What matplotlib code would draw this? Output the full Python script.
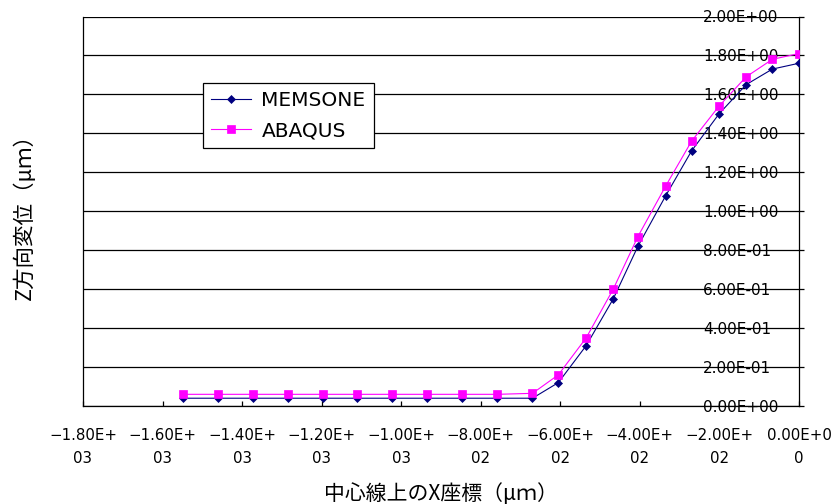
import numpy as np
import matplotlib
matplotlib.use("Agg")
import matplotlib.pyplot as plt

"""
Z displacement along the center line, MEMSONE vs ABAQUS
"""

plt.rcParams['font.family'] = ['DejaVu Sans', 'Noto Sans CJK JP']

# x coordinate on the center line (um)
xPos = [-1548, -1460, -1372, -1284, -1197, -1110, -1023, -936, -848, -758, -670,
        -605, -535, -467, -405, -335, -270, -201, -133, -67, 0]
# Z displacement (um)
memsone = [0.040, 0.040, 0.040, 0.040, 0.040, 0.040, 0.040, 0.040, 0.040, 0.040, 0.040,
           0.12, 0.31, 0.55, 0.82, 1.08, 1.31, 1.50, 1.65, 1.73, 1.76]
abaqus = [0.060, 0.060, 0.060, 0.060, 0.060, 0.060, 0.060, 0.060, 0.060, 0.060, 0.065,
          0.16, 0.35, 0.60, 0.87, 1.13, 1.36, 1.54, 1.69, 1.78, 1.81]

xTicks = np.arange(-1800, 1, 200)
yTicks = np.arange(0, 2.01, 0.2)

def xLabel(v):
    # Excel style scientific label, wrapped after 7 characters
    s = "%.2E" % v
    s = s.replace("-", "\u2212", 1) if v < 0 else s
    return s[:7] + "\n" + s[7:]

def yLabel(v):
    return "%.2E" % v

fig = plt.figure(figsize=(8.35, 5.04), dpi=100)
ax = fig.add_axes([83/835, 1-406/504, 716/835, 389.5/504])

ax.plot(xPos, memsone, color='#000080', lw=0.8, marker='D', ms=4.2, mew=0.5,
        label='MEMSONE', zorder=3)
ax.plot(xPos, abaqus, color='#FF00FF', lw=0.8, marker='s', ms=6.0, mew=0.5,
        label='ABAQUS', zorder=4)

ax.set_xlim(-1800, 0)
ax.set_ylim(0, 2.0)

ax.set_xticks(xTicks, [xLabel(v) for v in xTicks])
ax.set_yticks(yTicks, [yLabel(v) for v in yTicks])
for lbl in ax.get_xticklabels():
    lbl.set_linespacing(1.7)

ax.grid(axis='y', color='black', lw=0.9)
ax.set_axisbelow(True)

# y axis crosses at x=0: ticks outward on the right, labels inside the plot
ax.tick_params(axis='y', left=False, right=True, labelleft=False, labelright=True,
               direction='out', length=3.6, width=0.9, pad=-72.5, labelsize=11)
ax.tick_params(axis='x', direction='in', length=3.6, width=0.9, pad=15.5, labelsize=10.8)

ax.spines['top'].set_visible(False)
for s in ['left', 'right', 'bottom']:
    ax.spines[s].set_linewidth(0.9)

ax.set_xlabel('中心線上のX座標（μｍ）', family=['Noto Sans CJK JP'], fontsize=15, labelpad=12)
ax.set_ylabel('Z方向変位（μｍ）', family=['Noto Sans CJK JP'], fontsize=15.5, labelpad=34)

leg = ax.legend(loc='upper left', bbox_to_anchor=(120/716, 323/389.5), borderaxespad=0,
                fancybox=False, edgecolor='black', framealpha=1, fontsize=14.5,
                handlelength=2.0, handletextpad=0.5, labelspacing=0.55, borderpad=0.4)
leg.get_frame().set_linewidth(0.9)

fig.savefig('out.png', dpi=100)
plt.close()
